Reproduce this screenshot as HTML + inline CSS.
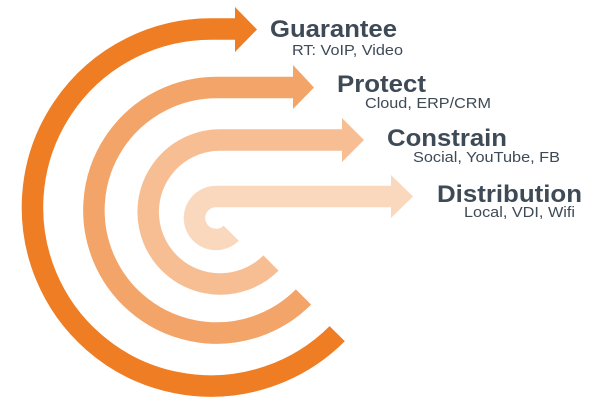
<!DOCTYPE html>
<html><head><style>
html,body{margin:0;padding:0;background:#fff;width:606px;height:409px;overflow:hidden}
svg{display:block}
.t{font-family:"Liberation Sans",sans-serif;font-weight:bold;font-size:24px;fill:#3e4a56}
.s{font-family:"Liberation Sans",sans-serif;font-size:15px;fill:#3e4a56}
</style></head><body>
<svg width="606" height="409" viewBox="0 0 606 409">
<g fill="none" stroke-width="21.5">
<path d="M337.2 333.7 A178.5 178.5 0 1 1 211 29 L236 29" stroke="#EE7D23"/>
<path d="M303.5 297 A122.75 122.75 0 1 1 216.75 87.5 L294 87.5" stroke="#F3A468"/>
<path d="M271 263 A72 72 0 1 1 220 140 L343 140" stroke="#F7BE93"/>
<path d="M231.2 233.2 A21.5 21.5 0 1 1 216 196.5 L392 196.5" stroke="#FAD8BD"/>
</g>
<polygon points="235,7 257,29.5 235,52" fill="#EE7D23"/>
<polygon points="293,65 314,87.5 293,109" fill="#F3A468"/>
<polygon points="342,118 364,140 342,162" fill="#F7BE93"/>
<polygon points="391,175 413,196.5 391,218" fill="#FAD8BD"/>
<text class="t" x="270" y="37" textLength="127" lengthAdjust="spacingAndGlyphs">Guarantee</text>
<text class="s" x="292" y="55" textLength="111" lengthAdjust="spacingAndGlyphs">RT: VoIP, Video</text>
<text class="t" x="337" y="92" textLength="89" lengthAdjust="spacingAndGlyphs">Protect</text>
<text class="s" x="365" y="108" textLength="126" lengthAdjust="spacingAndGlyphs">Cloud, ERP/CRM</text>
<text class="t" x="387" y="146" textLength="120" lengthAdjust="spacingAndGlyphs">Constrain</text>
<text class="s" x="413" y="162" textLength="147" lengthAdjust="spacingAndGlyphs">Social, YouTube, FB</text>
<text class="t" x="437" y="202" textLength="145" lengthAdjust="spacingAndGlyphs">Distribution</text>
<text class="s" x="464" y="217" textLength="111" lengthAdjust="spacingAndGlyphs">Local, VDI, Wifi</text>
</svg>
</body></html>
